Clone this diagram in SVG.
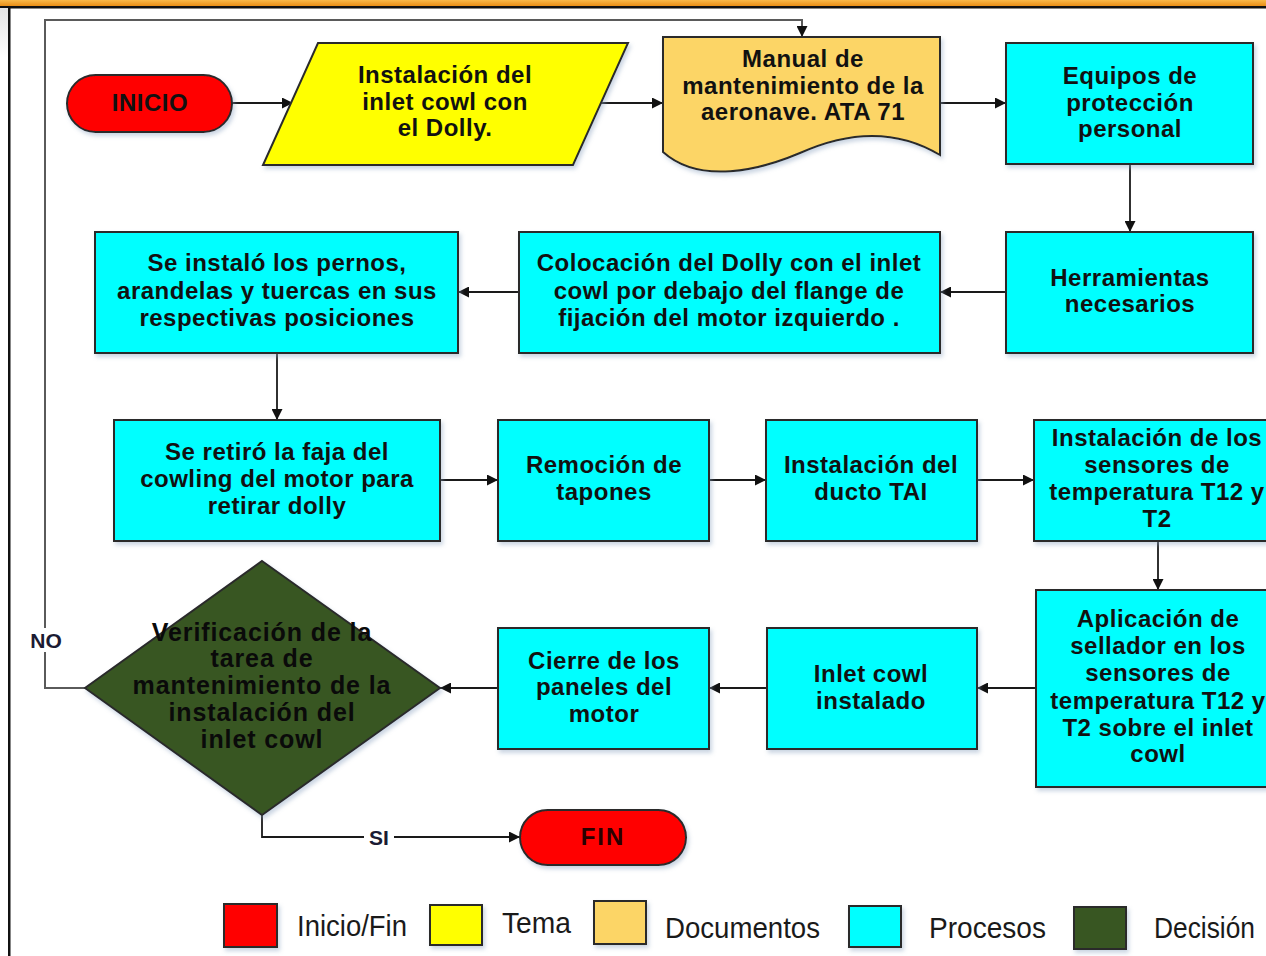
<svg xmlns="http://www.w3.org/2000/svg" width="1266" height="956" viewBox="0 0 1266 956">
<defs>
<linearGradient id="band" x1="0" y1="0" x2="0" y2="1">
<stop offset="0" stop-color="#F9B94A"/>
<stop offset="1" stop-color="#E98E16"/>
</linearGradient>
<linearGradient id="side" x1="0" y1="0" x2="0" y2="1">
<stop offset="0" stop-color="#e4e4e4"/>
<stop offset="1" stop-color="#ffffff"/>
</linearGradient>
<filter id="sh" x="-10%" y="-10%" width="125%" height="130%">
<feDropShadow dx="2" dy="3" stdDeviation="2" flood-color="#8aa0c0" flood-opacity="0.45"/>
</filter>
<marker id="ah" viewBox="0 0 10 10" refX="10" refY="5" markerWidth="13" markerHeight="11" markerUnits="userSpaceOnUse" orient="auto">
<path d="M0,0 L10,5 L0,10 Z" fill="#111"/>
</marker>
<style>
.n{stroke:#2b2b2b;stroke-width:2;filter:url(#sh)}
.red{fill:#FF0000}
.yel{fill:#FFFF00}
.doc{fill:#FCD566}
.cy{fill:#00FFFF}
.dg{fill:#385723}
.t{font-family:"Liberation Sans",Arial,sans-serif;font-weight:bold;font-size:24px;letter-spacing:0.5px;text-anchor:middle;fill:#111}
.d{font-size:25px;letter-spacing:0.9px;fill:#0a0a0a}
.lg{font-family:"Liberation Sans",Arial,sans-serif;font-size:29px;fill:#1a1a1a}
.c{fill:none;stroke:#1a1a1a;stroke-width:1.8;marker-end:url(#ah)}
.lab{font-family:"Liberation Sans",Arial,sans-serif;font-weight:bold;font-size:21px;text-anchor:middle;fill:#1b1b33}
</style>
</defs>
<rect width="1266" height="956" fill="#ffffff"/>
<rect x="0" y="0" width="1266" height="6" fill="url(#band)"/>
<rect x="0" y="6" width="1266" height="2.5" fill="#111"/>
<rect x="0" y="8" width="8" height="50" fill="url(#side)"/>
<rect x="8" y="7" width="2.5" height="949" fill="#111"/>

<g id="connectors">
<path class="c" d="M232,103 H293"/>
<path class="c" d="M600,103 H663"/>
<path class="c" d="M940,103 H1006"/>
<path class="c" d="M1130,164 V232"/>
<path class="c" d="M1006,292 H940"/>
<path class="c" d="M519,292 H458"/>
<path class="c" d="M277,353 V420"/>
<path class="c" d="M440,480 H498"/>
<path class="c" d="M709,480 H766"/>
<path class="c" d="M977,480 H1034"/>
<path class="c" d="M1158,541 V590"/>
<path class="c" d="M1036,688 H977"/>
<path class="c" d="M767,688 H709"/>
<path class="c" d="M498,688 H440"/>
<path class="c" d="M85,688 H45 V20 H802 V37" style="stroke:#5a5a5a;stroke-width:2"/>
<path class="c" d="M262,815 V837 H520"/>
<rect x="27" y="628" width="38" height="24" fill="#ffffff"/>
<text class="lab" x="46" y="648">NO</text>
<rect x="364" y="826" width="30" height="22" fill="#ffffff"/>
<text class="lab" x="379" y="845">SI</text>
</g>

<g id="inicio">
<rect class="n red" x="67" y="75" width="165" height="57" rx="28.5"/>
<text class="t" x="150" y="111">INICIO</text>
</g>
<g id="tema">
<polygon class="n yel" points="318,43 628,43 573,165 263,165"/>
<text class="t" x="445" y="83">Instalación del</text>
<text class="t" x="445" y="110">inlet cowl con</text>
<text class="t" x="445" y="136">el Dolly.</text>
</g>
<g id="manual">
<path class="n doc" d="M663,37 H940 V155 C890,125 840,135 800,153 C760,170 700,185 663,152 Z"/>
<text class="t" x="803" y="67">Manual de</text>
<text class="t" x="803" y="94">mantenimiento de la</text>
<text class="t" x="803" y="120">aeronave. ATA 71</text>
</g>
<g id="equipos">
<rect class="n cy" x="1006" y="43" width="247" height="121"/>
<text class="t" x="1130" y="84">Equipos de</text>
<text class="t" x="1130" y="111">protección</text>
<text class="t" x="1130" y="137">personal</text>
</g>
<g id="herramientas">
<rect class="n cy" x="1006" y="232" width="247" height="121"/>
<text class="t" x="1130" y="286">Herramientas</text>
<text class="t" x="1130" y="312">necesarios</text>
</g>
<g id="colocacion">
<rect class="n cy" x="519" y="232" width="421" height="121"/>
<text class="t" x="729" y="271">Colocación del Dolly con el inlet</text>
<text class="t" x="729" y="299">cowl por debajo del flange de</text>
<text class="t" x="729" y="326">fijación del motor izquierdo .</text>
</g>
<g id="pernos">
<rect class="n cy" x="95" y="232" width="363" height="121"/>
<text class="t" x="277" y="271">Se instaló los pernos,</text>
<text class="t" x="277" y="299">arandelas y tuercas en sus</text>
<text class="t" x="277" y="326">respectivas posiciones</text>
</g>
<g id="faja">
<rect class="n cy" x="114" y="420" width="326" height="121"/>
<text class="t" x="277" y="460">Se retiró la faja del</text>
<text class="t" x="277" y="487">cowling del motor para</text>
<text class="t" x="277" y="514">retirar dolly</text>
</g>
<g id="remocion">
<rect class="n cy" x="498" y="420" width="211" height="121"/>
<text class="t" x="604" y="473">Remoción de</text>
<text class="t" x="604" y="500">tapones</text>
</g>
<g id="ducto">
<rect class="n cy" x="766" y="420" width="211" height="121"/>
<text class="t" x="871" y="473">Instalación del</text>
<text class="t" x="871" y="500">ducto TAI</text>
</g>
<g id="sensores">
<rect class="n cy" x="1034" y="420" width="250" height="121"/>
<text class="t" x="1157" y="446">Instalación de los</text>
<text class="t" x="1157" y="473">sensores de</text>
<text class="t" x="1157" y="500">temperatura T12 y</text>
<text class="t" x="1157" y="527">T2</text>
</g>
<g id="aplicacion">
<rect class="n cy" x="1036" y="590" width="250" height="197"/>
<text class="t" x="1158" y="627">Aplicación de</text>
<text class="t" x="1158" y="654">sellador en los</text>
<text class="t" x="1158" y="681">sensores de</text>
<text class="t" x="1158" y="709">temperatura T12 y</text>
<text class="t" x="1158" y="736">T2 sobre el inlet</text>
<text class="t" x="1158" y="762">cowl</text>
</g>
<g id="inletcowl">
<rect class="n cy" x="767" y="628" width="210" height="121"/>
<text class="t" x="871" y="682">Inlet cowl</text>
<text class="t" x="871" y="709">instalado</text>
</g>
<g id="cierre">
<rect class="n cy" x="498" y="628" width="211" height="121"/>
<text class="t" x="604" y="669">Cierre de los</text>
<text class="t" x="604" y="695">paneles del</text>
<text class="t" x="604" y="722">motor</text>
</g>
<g id="verificacion">
<polygon class="n dg" points="262,561 440,688 262,815 85,688"/>
<text class="t d" x="262" y="641">Verificación de la</text>
<text class="t d" x="262" y="667">tarea de</text>
<text class="t d" x="262" y="694">mantenimiento de la</text>
<text class="t d" x="262" y="721">instalación del</text>
<text class="t d" x="262" y="748">inlet cowl</text>
</g>
<g id="fin">
<rect class="n red" x="520" y="810" width="166" height="55" rx="27.5"/>
<text class="t" x="603" y="845" style="fill:#2a0000;letter-spacing:2px">FIN</text>
</g>

<g id="legend">
<rect class="n red" x="224" y="904" width="53" height="43"/>
<text class="lg" x="297" y="936" textLength="110" lengthAdjust="spacingAndGlyphs">Inicio/Fin</text>
<rect class="n yel" x="430" y="905" width="52" height="40"/>
<text class="lg" x="502" y="933" textLength="69" lengthAdjust="spacingAndGlyphs">Tema</text>
<rect class="n doc" x="594" y="901" width="52" height="43"/>
<text class="lg" x="665" y="938" textLength="155" lengthAdjust="spacingAndGlyphs">Documentos</text>
<rect class="n cy" x="849" y="906" width="52" height="41"/>
<text class="lg" x="929" y="938" textLength="117" lengthAdjust="spacingAndGlyphs">Procesos</text>
<rect class="n dg" x="1074" y="907" width="52" height="42"/>
<text class="lg" x="1154" y="938" textLength="101" lengthAdjust="spacingAndGlyphs">Decisión</text>
</g>
</svg>
